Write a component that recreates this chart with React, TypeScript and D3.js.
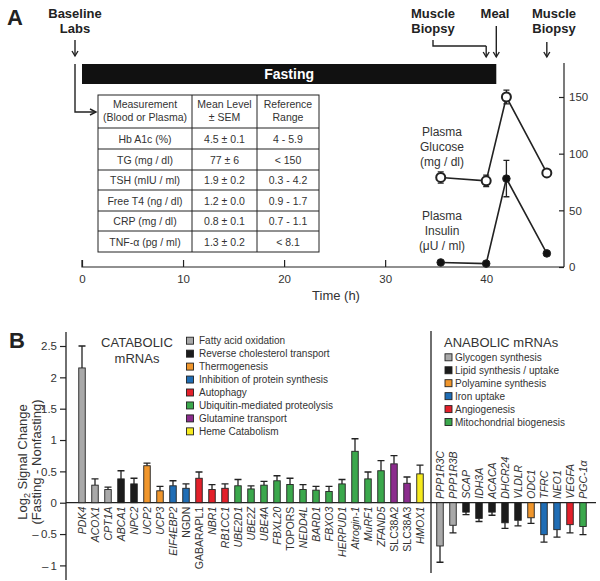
import React, { useEffect, useRef } from 'react'
import * as d3 from 'd3'

const FONT = '"Liberation Sans", Arial, sans-serif'

// Panel A - plasma glucose / insulin
const sampleTimes = [35.5, 40, 42, 46]
const glucoseMean = [79, 76, 150, 83]
const glucoseSem = [5, 5, 6, 2]
const insulinMean = [4, 3, 78, 12]
const insulinSem = [0, 0, 16, 0]
const timeTicks = [0, 10, 20, 30, 40]
const concTicks = [0, 50, 100, 150]
const fastingEnd = 41
const biopsyTimes = [40, 46]
const mealTime = 41

// Baseline labs table
const tableHeader = [
	['Measurement', '(Blood or Plasma)'],
	['Mean Level', '± SEM'],
	['Reference', 'Range'],
]
const tableMeasure = ['Hb A1c (%)', 'TG (mg / dl)', 'TSH (mIU / ml)', 'Free T4 (ng / dl)', 'CRP (mg / dl)', 'TNF-α (pg / ml)']
const tableMean = ['4.5 ± 0.1', '77 ± 6', '1.9 ± 0.2', '1.2 ± 0.0', '0.8 ± 0.1', '1.3 ± 0.2']
const tableRange = ['4 - 5.9', '< 150', '0.3 - 4.2', '0.9 - 1.7', '0.7 - 1.1', '< 8.1']

// Panel B - mRNA changes
const catabolicGenes = ['PDK4', 'ACOX1', 'CPT1A', 'ABCA1', 'NPC2', 'UCP2', 'UCP3', 'EIF4EBP2', 'NGDN', 'GABARAPL1', 'NBR1', 'RB1CC1', 'UBE2D1', 'UBE2Z', 'UBE4A', 'FBXL20', 'TOPORS', 'NEDD4L', 'BARD1', 'FBXO3', 'HERPUD1', 'Atrogin-1', 'MuRF1', 'ZFAND5', 'SLC38A2', 'SLC38A3', 'HMOX1']
const catabolicValues = [2.15, 0.28, 0.21, 0.38, 0.3, 0.59, 0.19, 0.27, 0.23, 0.39, 0.21, 0.23, 0.27, 0.22, 0.28, 0.35, 0.29, 0.21, 0.2, 0.18, 0.3, 0.82, 0.38, 0.51, 0.62, 0.31, 0.46]
const catabolicErrors = [0.35, 0.1, 0.04, 0.13, 0.09, 0.04, 0.07, 0.08, 0.07, 0.1, 0.08, 0.07, 0.1, 0.05, 0.06, 0.08, 0.1, 0.08, 0.06, 0.08, 0.07, 0.2, 0.11, 0.16, 0.13, 0.1, 0.14]
const catabolicGroups = [0, 0, 0, 1, 1, 2, 2, 3, 3, 4, 4, 4, 5, 5, 5, 5, 5, 5, 5, 5, 5, 5, 5, 5, 6, 6, 7]
const catabolicLegend = ['Fatty acid oxidation', 'Reverse cholesterol transport', 'Thermogenesis', 'Inhibition of protein synthesis', 'Autophagy', 'Ubiquitin-mediated proteolysis', 'Glutamine transport', 'Heme Catabolism']

const anabolicGenes = ['PPP1R3C', 'PPP1R3B', 'SCAP', 'IDH3A', 'ACACA', 'DHCR24', 'VLDLR', 'ODC1', 'TFRC', 'NEO1', 'VEGFA', 'PGC-1α']
const anabolicValues = [-0.69, -0.36, -0.15, -0.25, -0.15, -0.32, -0.28, -0.24, -0.51, -0.43, -0.35, -0.38]
const anabolicErrors = [0.26, 0.12, 0.04, 0.05, 0.05, 0.09, 0.09, 0.09, 0.12, 0.12, 0.13, 0.13]
const anabolicGroups = [0, 0, 1, 1, 1, 1, 1, 2, 3, 3, 4, 5]
const anabolicLegend = ['Glycogen synthesis', 'Lipid synthesis / uptake', 'Polyamine synthesis', 'Iron uptake', 'Angiogenesis', 'Mitochondrial biogenesis']

const uprightGenes = ['NGDN', 'GABARAPL1', 'TOPORS', 'SLC38A2', 'SLC38A3']
const signalTicks = [-1, -0.5, 0, 0.5, 1, 1.5, 2, 2.5]

const palette = ['#a9a9a9', '#1c1c1c', '#f0962c', '#1f6db5', '#e3202a', '#3ba84c', '#8b2c8d', '#f6ea1e']
const ink = '#222'
const textCol = '#333'

function App() {
	const ref = useRef<SVGSVGElement>(null)

	useEffect(() => {
		const svg = d3.select(ref.current)
		svg.selectAll('*').remove()

		// pijltje naar beneden
		const arrowDown = (g, x, y1, y2) => {
			g.append('line').attr('x1', x).attr('x2', x).attr('y1', y1).attr('y2', y2).attr('stroke', ink).attr('stroke-width', 1.4)
			g.append('path').attr('d', `M${x - 3},${y2 - 5}L${x},${y2}L${x + 3},${y2 - 5}`).attr('fill', 'none').attr('stroke', ink).attr('stroke-width', 1.4)
		}
		const boldLabel = (g, x, lines, y0) => {
			lines.forEach((l, i) => {
				g.append('text').attr('x', x).attr('y', y0 + i * 15).attr('text-anchor', 'middle')
					.attr('font-size', 13).attr('font-weight', 'bold').attr('fill', ink).text(l)
			})
		}

		// ---------- Panel A ----------
		const a = svg.append('g')
		const x = d3.scaleLinear().domain([0, 47.7]).range([82, 564])
		const y = d3.scaleLinear().domain([0, 180]).range([267, 63])

		a.append('text').attr('x', 7).attr('y', 25).attr('font-size', 22).attr('font-weight', 'bold').attr('fill', ink).text('A')

		boldLabel(a, 75, ['Baseline', 'Labs'], 18)
		arrowDown(a, 75, 40, 56)
		boldLabel(a, 433, ['Muscle', 'Biopsy'], 18)
		boldLabel(a, 495, ['Meal'], 18)
		boldLabel(a, 554, ['Muscle', 'Biopsy'], 18)
		a.append('path').attr('d', `M433,40V46H${x(biopsyTimes[0])}`).attr('fill', 'none').attr('stroke', ink).attr('stroke-width', 1.4)
		arrowDown(a, x(biopsyTimes[0]), 46, 57)
		arrowDown(a, x(mealTime) , 26, 57)
		arrowDown(a, x(biopsyTimes[1]), 42, 57)

		// fasting balk
		a.append('rect').attr('x', x(0)).attr('y', 64).attr('width', x(fastingEnd) - x(0)).attr('height', 20).attr('fill', '#111')
		a.append('text').attr('x', (x(0) + x(fastingEnd)) / 2).attr('y', 79).attr('text-anchor', 'middle')
			.attr('font-size', 14).attr('font-weight', 'bold').attr('fill', '#fff').text('Fasting')

		// baseline pijl naar de tabel
		a.append('path').attr('d', 'M75,64V112H95').attr('fill', 'none').attr('stroke', ink).attr('stroke-width', 1.4)
		a.append('path').attr('d', 'M90,109L96,112L90,115').attr('fill', 'none').attr('stroke', ink).attr('stroke-width', 1.4)

		// tabel
		const colEdges = [98, 192, 257, 319]
		const rowEdges = [95, 128, 149, 170, 190, 211, 231, 252]
		const t = a.append('g').attr('font-size', 10.5).attr('fill', textCol)
		t.append('rect').attr('x', colEdges[0]).attr('y', rowEdges[0]).attr('width', colEdges[3] - colEdges[0])
			.attr('height', rowEdges[7] - rowEdges[0]).attr('fill', '#fff').attr('stroke', ink).attr('stroke-width', 1)
		colEdges.slice(1, 3).forEach(cx => {
			t.append('line').attr('x1', cx).attr('x2', cx).attr('y1', rowEdges[0]).attr('y2', rowEdges[7]).attr('stroke', ink)
		})
		rowEdges.slice(1, 7).forEach(ry => {
			t.append('line').attr('x1', colEdges[0]).attr('x2', colEdges[3]).attr('y1', ry).attr('y2', ry).attr('stroke', ink)
		})
		const colMid = i => (colEdges[i] + colEdges[i + 1]) / 2
		tableHeader.forEach((h, ci) => {
			h.forEach((line, li) => {
				t.append('text').attr('x', colMid(ci)).attr('y', 108 + li * 13).attr('text-anchor', 'middle').text(line)
			})
		})
		;[tableMeasure, tableMean, tableRange].forEach((col, ci) => {
			col.forEach((v, ri) => {
				const cy = (rowEdges[ri + 1] + rowEdges[ri + 2]) / 2
				t.append('text').attr('x', colMid(ci)).attr('y', cy + 4).attr('text-anchor', 'middle').text(v)
			})
		})

		// assen
		const xAxis = a.append('g').attr('transform', 'translate(0,267)')
			.call(d3.axisTop(x).tickValues(timeTicks).tickSize(7).tickFormat(d3.format('d')))
		xAxis.select('.domain').attr('d', `M${x(0)},-7V0H${x.range()[1]}`).attr('stroke', ink).attr('stroke-width', 1.2)
		xAxis.selectAll('.tick line').attr('stroke', ink).attr('stroke-width', 1.2)
		xAxis.selectAll('.tick text').attr('y', 16).attr('dy', 0).attr('font-size', 11.5).attr('font-family', FONT).attr('fill', textCol)
		a.append('text').attr('x', 336).attr('y', 300).attr('text-anchor', 'middle').attr('font-size', 13).attr('fill', textCol).text('Time (h)')

		const yAxis = a.append('g').attr('transform', `translate(${x.range()[1]},0)`)
			.call(d3.axisLeft(y).tickValues(concTicks).tickSize(5))
		yAxis.select('.domain').attr('d', `M0,${y(180)}V${y(0)}`).attr('stroke', ink).attr('stroke-width', 1.2)
		yAxis.selectAll('.tick line').attr('stroke', ink).attr('stroke-width', 1.2)
		yAxis.selectAll('.tick text').attr('x', 5).attr('text-anchor', 'start').attr('font-size', 11.5).attr('font-family', FONT).attr('fill', textCol)

		// lijnen + punten
		const line = d3.line<number>().x((d, i) => x(sampleTimes[i])).y(d => y(d))
		const drawSeries = (vals, sems, open) => {
			a.append('path').attr('d', line(vals)).attr('fill', 'none').attr('stroke', ink).attr('stroke-width', 1.6)
			vals.forEach((v, i) => {
				const cx = x(sampleTimes[i])
				if (sems[i] > 0) {
					a.append('path').attr('d', `M${cx},${y(v - sems[i])}V${y(v + sems[i])}M${cx - 3},${y(v - sems[i])}H${cx + 3}M${cx - 3},${y(v + sems[i])}H${cx + 3}`)
						.attr('stroke', ink).attr('stroke-width', 1.3).attr('fill', 'none')
				}
				a.append('circle').attr('cx', cx).attr('cy', y(v)).attr('r', open ? 4.5 : 3.8)
					.attr('fill', open ? '#fff' : '#111').attr('stroke', ink).attr('stroke-width', open ? 2 : 1)
			})
		}
		drawSeries(glucoseMean, glucoseSem, true)
		drawSeries(insulinMean, insulinSem, false)

		const seriesLabel = (lines, y0) => {
			lines.forEach((l, i) => {
				a.append('text').attr('x', 442).attr('y', y0 + i * 15).attr('text-anchor', 'middle').attr('font-size', 12).attr('fill', textCol).text(l)
			})
		}
		seriesLabel(['Plasma', 'Glucose', '(mg / dl)'], 136)
		seriesLabel(['Plasma', 'Insulin', '(μU / ml)'], 220)

		// ---------- Panel B ----------
		const b = svg.append('g')
		const ys = d3.scaleLinear().domain([-1, 2.5]).range([565.4, 346])
		const xc = d3.scalePoint().domain(catabolicGenes).range([82, 420])
		const xa = d3.scalePoint().domain(anabolicGenes).range([440, 583])
		const bw = 6.5

		b.append('text').attr('x', 9).attr('y', 348).attr('font-size', 22).attr('font-weight', 'bold').attr('fill', ink).text('B')

		const sAxis = b.append('g').attr('transform', 'translate(66,0)')
			.call(d3.axisLeft(ys).tickValues(signalTicks).tickSize(6)
				.tickFormat(d => (d < 0 ? '\u2013\u2009' + d3.format('')(-d) : d3.format('')(d))))
		sAxis.select('.domain').attr('d', `M0,332V580`).attr('stroke', ink).attr('stroke-width', 1.3)
		sAxis.selectAll('.tick line').attr('stroke', ink).attr('stroke-width', 1.2)
		sAxis.selectAll('.tick text').attr('x', -9).attr('font-size', 11.5).attr('font-family', FONT).attr('fill', textCol)

		const yl = b.append('g').attr('transform', 'translate(0,462) rotate(-90)').attr('font-size', 13).attr('fill', textCol).attr('text-anchor', 'middle')
		const l1 = yl.append('text').attr('x', 0).attr('y', 27)
		l1.append('tspan').text('Log')
		l1.append('tspan').attr('font-size', 9).attr('dy', 3).text('2')
		l1.append('tspan').attr('dy', -3).text(' Signal Change')
		yl.append('text').attr('x', 0).attr('y', 41).text('(Fasting - Nonfasting)')

		// nullijn en scheiding
		b.append('line').attr('x1', 66).attr('x2', 596).attr('y1', ys(0)).attr('y2', ys(0)).attr('stroke', ink).attr('stroke-width', 1.3)
		b.append('line').attr('x1', 431).attr('x2', 431).attr('y1', 331).attr('y2', 573).attr('stroke', ink).attr('stroke-width', 1.3)

		const drawBars = (genes, vals, errs, groups, xs, labelsAbove) => {
			genes.forEach((g, i) => {
				const cx = xs(g)
				const v = vals[i]
				const e = errs[i]
				const tip = v + Math.sign(v) * e
				b.append('path').attr('d', `M${cx},${ys(v)}V${ys(tip)}M${cx - 3.5},${ys(tip)}H${cx + 3.5}`)
					.attr('stroke', ink).attr('stroke-width', 1.3).attr('fill', 'none')
				b.append('rect').attr('x', cx - bw / 2).attr('width', bw)
					.attr('y', Math.min(ys(0), ys(v))).attr('height', Math.abs(ys(v) - ys(0)))
					.attr('fill', palette[groups[i]]).attr('stroke', ink).attr('stroke-width', 0.9)
				const ly = labelsAbove ? ys(0) - 4 : ys(0) + 4
				b.append('text').attr('transform', `translate(${cx + 3.5},${ly}) rotate(-90)`)
					.attr('text-anchor', labelsAbove ? 'start' : 'end')
					.attr('font-size', 10.5).attr('font-style', uprightGenes.includes(g) ? 'normal' : 'italic')
					.attr('fill', textCol).text(g)
			})
		}
		drawBars(catabolicGenes, catabolicValues, catabolicErrors, catabolicGroups, xc, false)
		drawBars(anabolicGenes, anabolicValues, anabolicErrors, anabolicGroups, xa, true)

		// legenda's
		b.append('text').attr('x', 137).attr('y', 347).attr('text-anchor', 'middle').attr('font-size', 13).attr('fill', textCol).text('CATABOLIC')
		b.append('text').attr('x', 137).attr('y', 363).attr('text-anchor', 'middle').attr('font-size', 13).attr('fill', textCol).text('mRNAs')
		catabolicLegend.forEach((name, i) => {
			const cy = 340.7 + i * 12.95
			b.append('rect').attr('x', 186.5).attr('y', cy - 3.5).attr('width', 7).attr('height', 7).attr('fill', palette[i]).attr('stroke', ink).attr('stroke-width', 0.9)
			b.append('text').attr('x', 199).attr('y', cy + 3.6).attr('font-size', 10).attr('fill', textCol).text(name)
		})
		b.append('text').attr('x', 444).attr('y', 347).attr('font-size', 13).attr('fill', textCol).text('ANABOLIC mRNAs')
		anabolicLegend.forEach((name, i) => {
			const cy = 357.3 + i * 12.95
			b.append('rect').attr('x', 445).attr('y', cy - 3.5).attr('width', 7).attr('height', 7).attr('fill', palette[i]).attr('stroke', ink).attr('stroke-width', 0.9)
			b.append('text').attr('x', 455).attr('y', cy + 3.6).attr('font-size', 10).attr('fill', textCol).text(name)
		})
	}, [])

	return (
		<svg
			ref={ref}
			width={600}
			height={581}
			style={{ position: 'absolute', left: 0, top: 0, background: '#fff', fontFamily: FONT }}
		/>
	)
}

export default App
